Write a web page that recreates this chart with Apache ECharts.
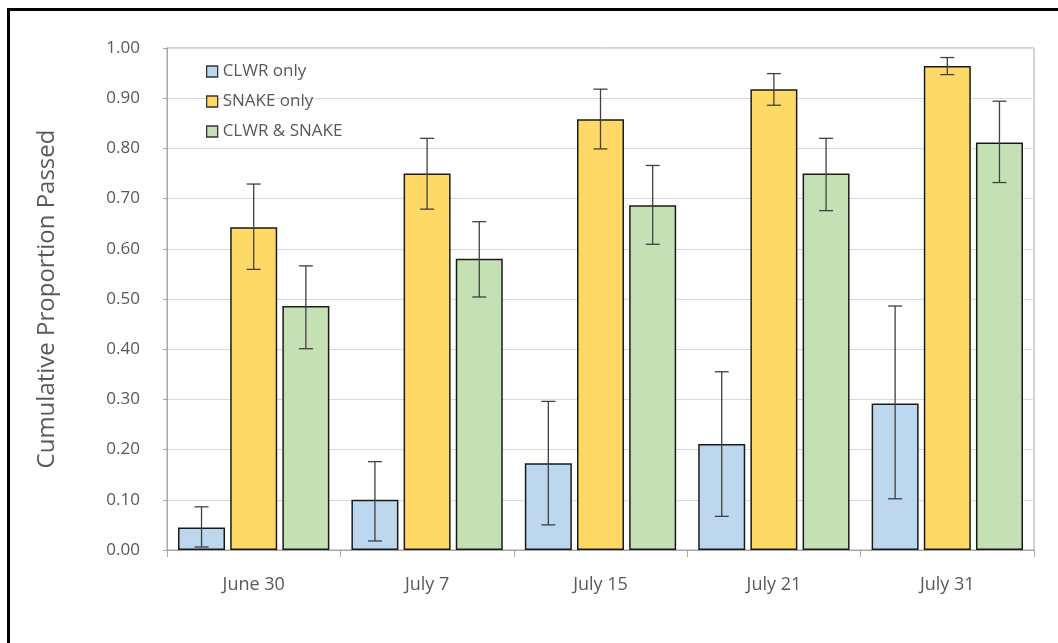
<!DOCTYPE html>
<html>
<head>
<meta charset="utf-8">
<script src="https://cdn.jsdelivr.net/npm/echarts@6/dist/echarts.min.js"></script>
<style>
  html, body { margin: 0; padding: 0; background: #ffffff; }
  #chart { width: 1058px; height: 643px; }
</style>
</head>
<body>
<div id="chart"></div>
<script>
// Sampling dates
var categories = ['June 30', 'July 7', 'July 15', 'July 21', 'July 31'];
var seriesNames = ['CLWR only', 'SNAKE only', 'CLWR & SNAKE'];

// Cumulative proportion passed per group
var clwrOnly = [0.045, 0.100, 0.173, 0.211, 0.292];
var snakeOnly = [0.643, 0.750, 0.858, 0.918, 0.964];
var clwrSnake = [0.486, 0.580, 0.687, 0.750, 0.812];

// Lower / upper confidence limits
var clwrOnlyLow = [0.006, 0.018, 0.050, 0.067, 0.102];
var clwrOnlyHigh = [0.086, 0.176, 0.296, 0.355, 0.486];
var snakeOnlyLow = [0.559, 0.679, 0.799, 0.886, 0.947];
var snakeOnlyHigh = [0.729, 0.820, 0.918, 0.949, 0.981];
var clwrSnakeLow = [0.401, 0.504, 0.609, 0.676, 0.732];
var clwrSnakeHigh = [0.566, 0.654, 0.766, 0.820, 0.894];

var yTicks = [0, 0.1, 0.2, 0.3, 0.4, 0.5, 0.6, 0.7, 0.8, 0.9, 1.0];

var colors = ['#bdd7ee', '#ffd966', '#c5e0b4'];
var FONT = 'Open Sans';
var TEXT_COLOR = '#595959';
var BAR_W = 47;
var GAP_RATIO = 0.11;

var chart = echarts.init(document.getElementById('chart'), null, { renderer: 'canvas' });

function errorSeries(groupIndex, low, high) {
  var data = categories.map(function (c, i) { return [i, low[i], high[i]]; });
  return {
    type: 'custom',
    name: seriesNames[groupIndex] + ' CI',
    z: 5,
    silent: true,
    encode: { x: 0, y: [1, 2] },
    data: data,
    renderItem: function (params, api) {
      var i = api.value(0);
      var pLow = api.coord([i, api.value(1)]);
      var pHigh = api.coord([i, api.value(2)]);
      var off = (groupIndex - 1) * BAR_W * (1 + GAP_RATIO);
      var x = pLow[0] + off;
      var cap = 7;
      var style = { stroke: '#404040', lineWidth: 1.3 };
      return {
        type: 'group',
        children: [
          { type: 'line', shape: { x1: x, y1: pHigh[1], x2: x, y2: pLow[1] }, style: style },
          { type: 'line', shape: { x1: x - cap, y1: pHigh[1], x2: x + cap, y2: pHigh[1] }, style: style },
          { type: 'line', shape: { x1: x - cap, y1: pLow[1], x2: x + cap, y2: pLow[1] }, style: style }
        ]
      };
    }
  };
}

function barSeries(idx, values) {
  return {
    type: 'bar',
    name: seriesNames[idx],
    data: values,
    barWidth: BAR_W,
    barGap: (GAP_RATIO * 100) + '%',
    itemStyle: { color: colors[idx], borderColor: '#1a1a1a', borderWidth: 1.5 },
    z: 2
  };
}

var option = {
  backgroundColor: '#ffffff',
  animation: false,
  graphic: [{
    type: 'rect',
    left: 6, top: 7,
    shape: { width: 1100, height: 700 },
    style: { fill: 'none', stroke: '#000000', lineWidth: 3 },
    z: 100
  }],
  legend: {
    orient: 'vertical',
    left: 201,
    top: 58,
    itemGap: 13,
    itemWidth: 11,
    itemHeight: 11,
    icon: 'rect',
    data: seriesNames.map(function (n, i) {
      return { name: n, itemStyle: { color: colors[i], borderColor: '#333333', borderWidth: 1.3 } };
    }),
    textStyle: { fontFamily: FONT, fontSize: 17, color: TEXT_COLOR, padding: [0, 0, 0, 0] }
  },
  grid: {
    left: 167, right: 24, top: 48, bottom: 93,
    show: true, borderColor: '#a6a6a6', borderWidth: 1
  },
  xAxis: {
    type: 'category',
    data: categories,
    axisLine: { lineStyle: { color: '#a6a6a6', width: 1 } },
    axisTick: { show: true, length: 7, lineStyle: { color: '#a6a6a6' } },
    axisLabel: { fontFamily: FONT, fontSize: 18, color: TEXT_COLOR, margin: 26 },
    splitLine: { show: false }
  },
  yAxis: {
    type: 'value',
    min: yTicks[0],
    max: yTicks[yTicks.length - 1],
    interval: 0.1,
    name: 'Cumulative Proportion Passed',
    nameLocation: 'middle',
    nameGap: 108,
    nameTextStyle: { fontFamily: FONT, fontSize: 24, color: TEXT_COLOR },
    axisLine: { show: true, lineStyle: { color: '#a6a6a6', width: 1 } },
    axisTick: { show: true, length: 4, lineStyle: { color: '#a6a6a6' } },
    axisLabel: {
      fontFamily: FONT, fontSize: 17, color: TEXT_COLOR, margin: 27,
      formatter: function (v) { return v.toFixed(2); }
    },
    splitLine: { lineStyle: { color: '#d9d9d9', width: 1 } }
  },
  series: [
    barSeries(0, clwrOnly),
    barSeries(1, snakeOnly),
    barSeries(2, clwrSnake),
    errorSeries(0, clwrOnlyLow, clwrOnlyHigh),
    errorSeries(1, snakeOnlyLow, snakeOnlyHigh),
    errorSeries(2, clwrSnakeLow, clwrSnakeHigh)
  ]
};

chart.setOption(option);
</script>
</body>
</html>
